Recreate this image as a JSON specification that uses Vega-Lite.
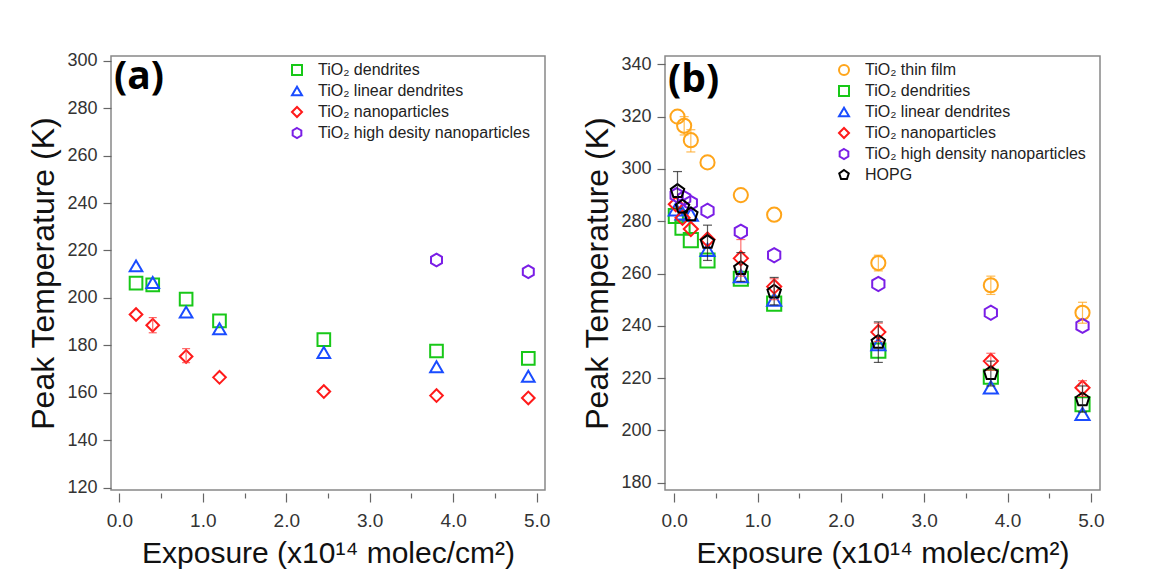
{
  "$schema": "https://vega.github.io/schema/vega-lite/v6.json",
  "background": "white",
  "padding": {"left": 27, "top": 50, "right": 5, "bottom": 5},
  "spacing": 30,
  "datasets": {
    "a": [
      {"series": "TiO₂ dendrites", "x": 0.2, "y": 206.2},
      {"series": "TiO₂ dendrites", "x": 0.4, "y": 205.5},
      {"series": "TiO₂ dendrites", "x": 0.8, "y": 199.5},
      {"series": "TiO₂ dendrites", "x": 1.2, "y": 190.3},
      {"series": "TiO₂ dendrites", "x": 2.45, "y": 182.4},
      {"series": "TiO₂ dendrites", "x": 3.8, "y": 177.6},
      {"series": "TiO₂ dendrites", "x": 4.9, "y": 174.5},
      {"series": "TiO₂ linear dendrites", "x": 0.2, "y": 213.5},
      {"series": "TiO₂ linear dendrites", "x": 0.4, "y": 206.5},
      {"series": "TiO₂ linear dendrites", "x": 0.8, "y": 194},
      {"series": "TiO₂ linear dendrites", "x": 1.2, "y": 187},
      {"series": "TiO₂ linear dendrites", "x": 2.45, "y": 177},
      {"series": "TiO₂ linear dendrites", "x": 3.8, "y": 171},
      {"series": "TiO₂ linear dendrites", "x": 4.9, "y": 167},
      {"series": "TiO₂ nanoparticles", "x": 0.2, "y": 193},
      {"series": "TiO₂ nanoparticles", "x": 0.4, "y": 188.5},
      {"series": "TiO₂ nanoparticles", "x": 0.8, "y": 175.3},
      {"series": "TiO₂ nanoparticles", "x": 1.2, "y": 166.5},
      {"series": "TiO₂ nanoparticles", "x": 2.45, "y": 160.5},
      {"series": "TiO₂ nanoparticles", "x": 3.8, "y": 158.8},
      {"series": "TiO₂ nanoparticles", "x": 4.9, "y": 157.8},
      {"series": "TiO₂ high desity nanoparticles", "x": 3.8, "y": 216},
      {"series": "TiO₂ high desity nanoparticles", "x": 4.9, "y": 211}
    ],
    "aerr": [
      {"series": "TiO₂ nanoparticles", "x": 0.4, "lo": 185.3, "hi": 191.7},
      {"series": "TiO₂ nanoparticles", "x": 0.8, "lo": 172.7, "hi": 178.6}
    ],
    "b": [
      {"series": "TiO₂ thin film", "x": 0.04, "y": 320},
      {"series": "TiO₂ thin film", "x": 0.12, "y": 316.5},
      {"series": "TiO₂ thin film", "x": 0.2, "y": 311},
      {"series": "TiO₂ thin film", "x": 0.4, "y": 302.5},
      {"series": "TiO₂ thin film", "x": 0.8, "y": 290},
      {"series": "TiO₂ thin film", "x": 1.2, "y": 282.5},
      {"series": "TiO₂ thin film", "x": 2.45, "y": 264},
      {"series": "TiO₂ thin film", "x": 3.8, "y": 255.5},
      {"series": "TiO₂ thin film", "x": 4.9, "y": 245},
      {"series": "TiO₂ dendrities", "x": 0.02, "y": 282},
      {"series": "TiO₂ dendrities", "x": 0.1, "y": 277.5},
      {"series": "TiO₂ dendrities", "x": 0.2, "y": 272.8},
      {"series": "TiO₂ dendrities", "x": 0.4, "y": 265},
      {"series": "TiO₂ dendrities", "x": 0.8, "y": 258},
      {"series": "TiO₂ dendrities", "x": 1.2, "y": 248.5},
      {"series": "TiO₂ dendrities", "x": 2.45, "y": 230.5},
      {"series": "TiO₂ dendrities", "x": 3.8, "y": 220.5},
      {"series": "TiO₂ dendrities", "x": 4.9, "y": 210},
      {"series": "TiO₂ linear dendrites", "x": 0.02, "y": 284.5},
      {"series": "TiO₂ linear dendrites", "x": 0.1, "y": 283},
      {"series": "TiO₂ linear dendrites", "x": 0.2, "y": 282.5},
      {"series": "TiO₂ linear dendrites", "x": 0.4, "y": 269},
      {"series": "TiO₂ linear dendrites", "x": 0.8, "y": 259},
      {"series": "TiO₂ linear dendrites", "x": 1.2, "y": 250},
      {"series": "TiO₂ linear dendrites", "x": 2.45, "y": 233},
      {"series": "TiO₂ linear dendrites", "x": 3.8, "y": 216.5},
      {"series": "TiO₂ linear dendrites", "x": 4.9, "y": 206.3},
      {"series": "TiO₂ nanoparticles", "x": 0.02, "y": 286.5},
      {"series": "TiO₂ nanoparticles", "x": 0.1, "y": 281.3},
      {"series": "TiO₂ nanoparticles", "x": 0.2, "y": 277},
      {"series": "TiO₂ nanoparticles", "x": 0.4, "y": 273},
      {"series": "TiO₂ nanoparticles", "x": 0.8, "y": 265.8},
      {"series": "TiO₂ nanoparticles", "x": 1.2, "y": 255},
      {"series": "TiO₂ nanoparticles", "x": 2.45, "y": 237.6},
      {"series": "TiO₂ nanoparticles", "x": 3.8, "y": 226.5},
      {"series": "TiO₂ nanoparticles", "x": 4.9, "y": 216.3},
      {"series": "TiO₂ high density nanoparticles", "x": 0.03, "y": 290},
      {"series": "TiO₂ high density nanoparticles", "x": 0.12, "y": 288.8},
      {"series": "TiO₂ high density nanoparticles", "x": 0.2, "y": 287},
      {"series": "TiO₂ high density nanoparticles", "x": 0.4, "y": 284},
      {"series": "TiO₂ high density nanoparticles", "x": 0.8, "y": 276},
      {"series": "TiO₂ high density nanoparticles", "x": 1.2, "y": 267},
      {"series": "TiO₂ high density nanoparticles", "x": 2.45, "y": 256},
      {"series": "TiO₂ high density nanoparticles", "x": 3.8, "y": 245},
      {"series": "TiO₂ high density nanoparticles", "x": 4.9, "y": 240},
      {"series": "HOPG", "x": 0.04, "y": 291.5},
      {"series": "HOPG", "x": 0.1, "y": 285.5},
      {"series": "HOPG", "x": 0.2, "y": 282.6},
      {"series": "HOPG", "x": 0.4, "y": 272},
      {"series": "HOPG", "x": 0.8, "y": 262},
      {"series": "HOPG", "x": 1.2, "y": 253},
      {"series": "HOPG", "x": 2.45, "y": 233.8},
      {"series": "HOPG", "x": 3.8, "y": 221.8},
      {"series": "HOPG", "x": 4.9, "y": 211.8}
    ],
    "berr": [
      {"series": "TiO₂ thin film", "x": 0.12, "lo": 313, "hi": 320},
      {"series": "TiO₂ thin film", "x": 0.2, "lo": 306.5, "hi": 315},
      {"series": "TiO₂ thin film", "x": 2.45, "lo": 261, "hi": 267},
      {"series": "TiO₂ thin film", "x": 3.8, "lo": 252, "hi": 259},
      {"series": "TiO₂ thin film", "x": 4.9, "lo": 241, "hi": 249},
      {"series": "TiO₂ nanoparticles", "x": 0.8, "lo": 259, "hi": 273},
      {"series": "TiO₂ nanoparticles", "x": 1.2, "lo": 250, "hi": 258},
      {"series": "TiO₂ nanoparticles", "x": 2.45, "lo": 234, "hi": 241},
      {"series": "TiO₂ nanoparticles", "x": 3.8, "lo": 223, "hi": 229.5},
      {"series": "TiO₂ nanoparticles", "x": 4.9, "lo": 213, "hi": 219},
      {"series": "HOPG", "x": 0.04, "lo": 285, "hi": 299},
      {"series": "HOPG", "x": 0.4, "lo": 265, "hi": 278.5},
      {"series": "HOPG", "x": 0.8, "lo": 257, "hi": 268},
      {"series": "HOPG", "x": 1.2, "lo": 248, "hi": 258.5},
      {"series": "HOPG", "x": 2.45, "lo": 226, "hi": 241.5},
      {"series": "HOPG", "x": 3.8, "lo": 217, "hi": 226.5},
      {"series": "HOPG", "x": 4.9, "lo": 207, "hi": 217}
    ]
  },
  "config": {
    "view": {"stroke": "#888888", "strokeWidth": 1.5},
    "axis": {
      "domain": false,
      "grid": false,
      "tickColor": "#666666",
      "tickWidth": 1.2,
      "labelColor": "#333333",
      "titleColor": "#111111",
      "labelFont": "Liberation Sans",
      "titleFont": "Liberation Sans",
      "titleFontWeight": "normal"
    },
    "axisX": {
      "offset": 3,
      "labelFontSize": 19,
      "labelPadding": 9,
      "titleFontSize": 30,
      "titlePadding": 8
    },
    "axisY": {
      "labelFontSize": 18,
      "labelPadding": 6,
      "tickSize": 8,
      "titleFontSize": 32,
      "titlePadding": 6
    },
    "legend": {
      "orient": "none",
      "padding": 0,
      "labelFont": "Liberation Sans",
      "labelFontSize": 16,
      "labelColor": "#222222",
      "labelOffset": 13,
      "labelLimit": 400,
      "symbolSize": 100,
      "symbolStrokeWidth": 2,
      "rowPadding": 3,
      "title": null
    },
    "title": {
      "font": "Open Sans",
      "fontSize": 39,
      "fontWeight": "bold",
      "color": "#000000",
      "anchor": "start",
      "frame": "group",
      "offset": -45,
      "dx": 3
    }
  },
  "hconcat": [
    {
      "width": 434,
      "height": 434,
      "title": "(a)",
      "layer": [
        {
          "data": {"name": "a"},
          "mark": {"type": "point", "filled": false, "strokeWidth": 2, "opacity": 1, "size": 160},
          "encoding": {
            "x": {
              "field": "x", "type": "quantitative",
              "scale": {"domain": [-0.1, 5.1], "nice": false, "zero": false},
              "title": "Exposure (x10¹⁴ molec/cm²)",
              "axis": {
                "values": [0, 0.5, 1, 1.5, 2, 2.5, 3, 3.5, 4, 4.5, 5],
                "labelExpr": "datum.value % 1 === 0 ? format(datum.value, '.1f') : ''",
                "tickSize": {"condition": {"test": "datum.value % 1 === 0", "value": 9}, "value": 5}
              }
            },
            "y": {
              "field": "y", "type": "quantitative",
              "scale": {"domain": [119, 302], "nice": false, "zero": false},
              "title": "Peak Temperature (K)",
              "axis": {"values": [120, 140, 160, 180, 200, 220, 240, 260, 280, 300]}
            },
            "color": {
              "field": "series", "type": "nominal",
              "scale": {
                "domain": ["TiO₂ dendrites", "TiO₂ linear dendrites", "TiO₂ nanoparticles", "TiO₂ high desity nanoparticles"],
                "range": ["#18c818", "#1a4cff", "#ff1a1a", "#7a1ee6"]
              },
              "legend": {"legendX": 178, "legendY": 6}
            },
            "shape": {
              "field": "series", "type": "nominal",
              "scale": {
                "domain": ["TiO₂ dendrites", "TiO₂ linear dendrites", "TiO₂ nanoparticles", "TiO₂ high desity nanoparticles"],
                "range": ["square", "triangle-up", "diamond", "M0,-1L0.866,-0.5L0.866,0.5L0,1L-0.866,0.5L-0.866,-0.5Z"]
              },
              "legend": {"legendX": 178, "legendY": 6}
            }
          }
        },
        {
          "data": {"name": "aerr"},
          "mark": {"type": "rule", "strokeWidth": 1.2, "opacity": 0.8},
          "encoding": {
            "x": {"field": "x", "type": "quantitative", "title": "Exposure (x10¹⁴ molec/cm²)"},
            "y": {"field": "lo", "type": "quantitative", "title": "Peak Temperature (K)"},
            "y2": {"field": "hi"},
            "stroke": {
              "field": "series", "type": "nominal",
              "scale": {"domain": ["TiO₂ nanoparticles"], "range": ["#ff4040"]},
              "legend": null
            }
          }
        },
        {
          "data": {"name": "aerr"},
          "mark": {"type": "point", "shape": "stroke", "size": 64, "strokeWidth": 1.2, "opacity": 0.8},
          "encoding": {
            "x": {"field": "x", "type": "quantitative", "title": "Exposure (x10¹⁴ molec/cm²)"},
            "y": {"field": "lo", "type": "quantitative", "title": "Peak Temperature (K)"},
            "stroke": {"field": "series", "type": "nominal", "legend": null}
          }
        },
        {
          "data": {"name": "aerr"},
          "mark": {"type": "point", "shape": "stroke", "size": 64, "strokeWidth": 1.2, "opacity": 0.8},
          "encoding": {
            "x": {"field": "x", "type": "quantitative", "title": "Exposure (x10¹⁴ molec/cm²)"},
            "y": {"field": "hi", "type": "quantitative", "title": "Peak Temperature (K)"},
            "stroke": {"field": "series", "type": "nominal", "legend": null}
          }
        }
      ]
    },
    {
      "width": 435,
      "height": 434,
      "title": "(b)",
      "layer": [
        {
          "data": {"name": "b"},
          "mark": {"type": "point", "filled": false, "strokeWidth": 2, "opacity": 1, "size": 200},
          "encoding": {
            "x": {
              "field": "x", "type": "quantitative",
              "scale": {"domain": [-0.11, 5.11], "nice": false, "zero": false},
              "title": "Exposure (x10¹⁴ molec/cm²)",
              "axis": {
                "values": [0, 0.5, 1, 1.5, 2, 2.5, 3, 3.5, 4, 4.5, 5],
                "labelExpr": "datum.value % 1 === 0 ? format(datum.value, '.1f') : ''",
                "tickSize": {"condition": {"test": "datum.value % 1 === 0", "value": 9}, "value": 5}
              }
            },
            "y": {
              "field": "y", "type": "quantitative",
              "scale": {"domain": [177.2, 343.2], "nice": false, "zero": false},
              "title": "Peak Temperature (K)",
              "axis": {"values": [180, 200, 220, 240, 260, 280, 300, 320, 340]}
            },
            "color": {
              "field": "series", "type": "nominal",
              "scale": {
                "domain": ["TiO₂ thin film", "TiO₂ dendrities", "TiO₂ linear dendrites", "TiO₂ nanoparticles", "TiO₂ high density nanoparticles", "HOPG"],
                "range": ["#ffa51a", "#18c818", "#1a4cff", "#ff1a1a", "#7a1ee6", "#000000"]
              },
              "legend": {"legendX": 171, "legendY": 6}
            },
            "shape": {
              "field": "series", "type": "nominal",
              "scale": {
                "domain": ["TiO₂ thin film", "TiO₂ dendrities", "TiO₂ linear dendrites", "TiO₂ nanoparticles", "TiO₂ high density nanoparticles", "HOPG"],
                "range": ["circle", "square", "triangle-up", "diamond", "M0,-1L0.866,-0.5L0.866,0.5L0,1L-0.866,0.5L-0.866,-0.5Z", "M0,-1L0.951,-0.309L0.588,0.809L-0.588,0.809L-0.951,-0.309Z"]
              },
              "legend": {"legendX": 171, "legendY": 6}
            }
          }
        },
        {
          "data": {"name": "berr"},
          "mark": {"type": "rule", "strokeWidth": 1.2, "opacity": 0.75},
          "encoding": {
            "x": {"field": "x", "type": "quantitative", "title": "Exposure (x10¹⁴ molec/cm²)"},
            "y": {"field": "lo", "type": "quantitative", "title": "Peak Temperature (K)"},
            "y2": {"field": "hi"},
            "stroke": {
              "field": "series", "type": "nominal",
              "scale": {"domain": ["TiO₂ thin film", "TiO₂ nanoparticles", "HOPG"], "range": ["#ffa51a", "#ff4040", "#222222"]},
              "legend": null
            }
          }
        },
        {
          "data": {"name": "berr"},
          "mark": {"type": "point", "shape": "stroke", "size": 81, "strokeWidth": 1.2, "opacity": 0.75},
          "encoding": {
            "x": {"field": "x", "type": "quantitative", "title": "Exposure (x10¹⁴ molec/cm²)"},
            "y": {"field": "lo", "type": "quantitative", "title": "Peak Temperature (K)"},
            "stroke": {"field": "series", "type": "nominal", "legend": null}
          }
        },
        {
          "data": {"name": "berr"},
          "mark": {"type": "point", "shape": "stroke", "size": 81, "strokeWidth": 1.2, "opacity": 0.75},
          "encoding": {
            "x": {"field": "x", "type": "quantitative", "title": "Exposure (x10¹⁴ molec/cm²)"},
            "y": {"field": "hi", "type": "quantitative", "title": "Peak Temperature (K)"},
            "stroke": {"field": "series", "type": "nominal", "legend": null}
          }
        }
      ]
    }
  ],
  "resolve": {
    "scale": {"color": "independent", "shape": "independent", "stroke": "independent"},
    "legend": {"color": "independent", "shape": "independent"}
  }
}
